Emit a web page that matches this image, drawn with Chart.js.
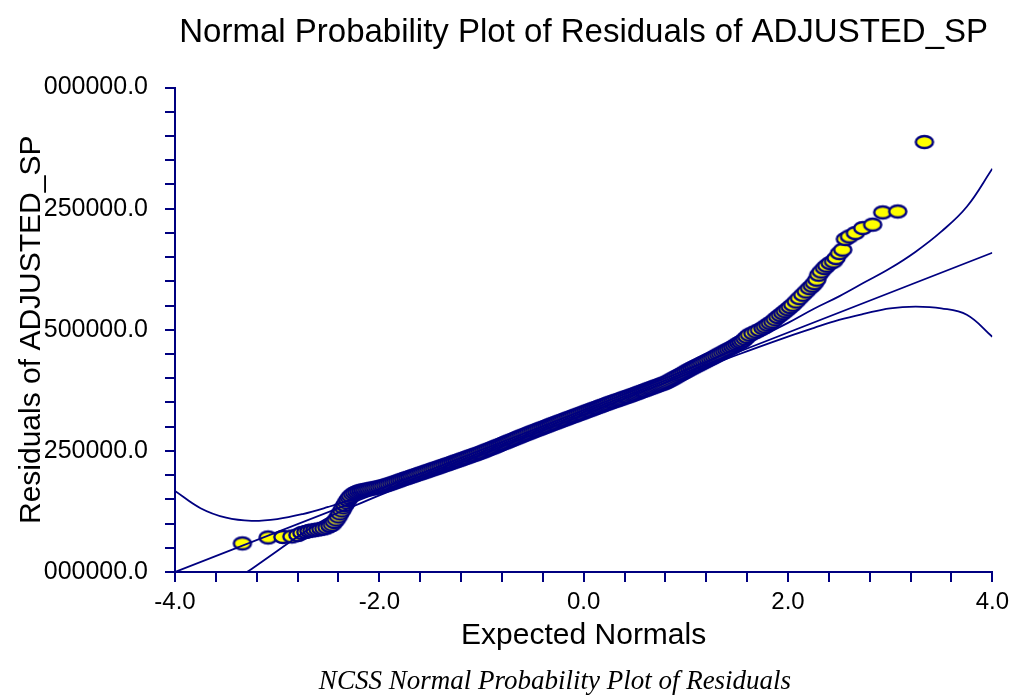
<!DOCTYPE html>
<html><head><meta charset="utf-8">
<script src="https://cdn.jsdelivr.net/npm/chart.js@4.4.0/dist/chart.umd.min.js"></script>
<style>html,body{margin:0;padding:0;background:#fff}#wrap{width:1015px;height:696px}</style>
</head><body><div id="wrap"><canvas id="c" width="1015" height="696"></canvas></div>
<script>
const titleText = 'Normal Probability Plot of Residuals of ADJUSTED_SP';
const xAxisTitle = 'Expected Normals';
const yAxisTitle = 'Residuals of ADJUSTED_SP';
const captionText = 'NCSS Normal Probability Plot of Residuals';
const xTickLabels = ['-4.0','-2.0','0.0','2.0','4.0'];
const yTickLabels = ['000000.0','250000.0','500000.0','250000.0','000000.0'];

// expected normal scores (x) of the sorted residuals
const expectedNormals = [
-3.340,-3.088,-2.944,-2.856,-2.797,-2.758,-2.719,-2.689,-2.660,-2.631,
-2.601,-2.572,-2.543,-2.513,-2.484,-2.460,-2.440,-2.421,-2.401,-2.386,
-2.367,-2.352,-2.337,-2.323,-2.308,-2.293,
-2.28,-2.26,-2.24,-2.22,-2.20,-2.18,-2.16,-2.14,-2.12,-2.10,
-2.08,-2.06,-2.04,-2.02,-2.00,-1.98,-1.96,-1.94,-1.92,-1.90,
-1.88,-1.86,-1.84,-1.82,-1.80,-1.78,-1.76,-1.74,-1.72,-1.70,
-1.68,-1.66,-1.64,-1.62,-1.60,-1.58,-1.56,-1.54,-1.52,-1.50,
-1.48,-1.46,-1.44,-1.42,-1.40,-1.38,-1.36,-1.34,-1.32,-1.30,
-1.28,-1.26,-1.24,-1.22,-1.20,-1.18,-1.16,-1.14,-1.12,-1.10,
-1.08,-1.06,-1.04,-1.02,-1.00,-0.98,-0.96,-0.94,-0.92,-0.90,
-0.88,-0.86,-0.84,-0.82,-0.80,-0.78,-0.76,-0.74,-0.72,-0.70,
-0.68,-0.66,-0.64,-0.62,-0.60,-0.58,-0.56,-0.54,-0.52,-0.50,
-0.48,-0.46,-0.44,-0.42,-0.40,-0.38,-0.36,-0.34,-0.32,-0.30,
-0.28,-0.26,-0.24,-0.22,-0.20,-0.18,-0.16,-0.14,-0.12,-0.10,
-0.08,-0.06,-0.04,-0.02,0.00,0.02,0.04,0.06,0.08,0.10,
0.12,0.14,0.16,0.18,0.20,0.22,0.24,0.26,0.28,0.30,
0.32,0.34,0.36,0.38,0.40,0.42,0.44,0.46,0.48,0.50,
0.52,0.54,0.56,0.58,0.60,0.62,0.64,0.66,0.68,0.70,
0.72,0.74,0.76,0.78,0.80,0.82,0.84,0.86,0.88,0.90,
0.92,0.94,0.96,0.98,1.00,1.02,1.04,1.06,1.08,1.10,
1.12,1.14,1.16,1.18,1.20,1.22,1.24,1.26,1.28,1.30,
1.32,1.34,1.36,1.38,1.40,1.42,1.44,1.46,1.48,1.50,
1.52,1.54,1.56,
1.58,1.60,1.623,1.656,1.689,1.72,1.754,1.778,1.802,1.826,
1.851,1.875,1.900,1.925,1.949,1.973,1.998,2.022,2.047,2.080,
2.112,2.145,2.178,2.210,2.237,2.259,2.282,2.301,2.325,2.357,
2.380,2.413,2.445,2.471,2.504,2.536,2.562,2.601,2.660,2.732,
2.829,2.927,3.074,3.335
];
// residuals (thousands)
const residuals = [
-823,-786,-783,-780,-771,-758,-752,-746,-743,-740,
-737,-733,-730,-724,-715,-706,-690,-675,-656,-637,
-619,-600,-585,-569,-554,-541,
-530,-519,-511,-505,-500,-497,-494,-492,-489,-487,
-484,-482,-479,-476,-474,-470,-467,-463,-459,-456,
-451,-447,-442,-438,-433,-429,-424,-420,-416,-412,
-407,-403,-399,-394,-390,-386,-382,-377,-373,-369,
-364,-360,-356,-352,-347,-343,-338,-334,-330,-325,
-321,-316,-312,-308,-303,-299,-294,-290,-285,-281,
-276,-272,-268,-263,-258,-253,-248,-243,-238,-233,
-228,-223,-218,-213,-207,-202,-197,-192,-187,-182,
-177,-171,-166,-161,-156,-151,-146,-141,-136,-131,
-126,-121,-116,-112,-107,-102,-97,-92,-87,-82,
-78,-73,-68,-64,-59,-54,-49,-45,-40,-35,
-31,-26,-21,-17,-12,-7,-2,2,7,12,
16,21,26,30,35,40,44,49,53,58,
62,66,71,75,80,84,88,93,97,102,
107,111,116,121,125,130,135,139,144,149,
153,158,163,167,172,178,185,192,199,206,
213,220,227,234,241,248,255,262,268,275,
281,287,294,300,306,313,319,325,332,339,
346,352,359,366,373,379,386,393,401,409,
417,424,432,
444,456,469,479,489,499,510,520,531,541,
551,565,579,591,603,615,628,641,655,675,
696,717,737,758,773,789,810,841,861,882,
897,913,923,944,975,996,1062,1078,1099,1130,
1151,1227,1233,1663
];
// reference line and confidence bands (thousands)
const fitX = [-4, 4];
const fitY = [-1000, 977];
const bandX = [-4,-3.75,-3.5,-3.25,-3,-2.75,-2.5,-2.25,-2,-1.5,-1,-0.5,0,0.5,1,1.5,2,2.25,2.5,2.75,3,3.25,3.5,3.75,4];
const upperBand = [-498,-605,-664,-683,-672,-641,-597,-547,-487,-367,-244,-121,2,126,251,386,543,629,707,794,881,984,1108,1262,1498];
const lowerBand = [-1502,-1271,-1089,-981,-870,-760,-662,-592,-525,-398,-272,-148,-25,98,222,344,458,511,561,600,633,643,633,593,457];

const NAVY = '#000080';
const FONT = 'Liberation Sans';

const marker = document.createElement('canvas');
marker.width = 24; marker.height = 18;
(function(){
  const g = marker.getContext('2d');
  g.beginPath(); g.ellipse(12, 9, 8.6, 6.0, 0, 0, Math.PI * 2);
  g.fillStyle = '#FFFF00'; g.fill();
  g.lineWidth = 2.4; g.strokeStyle = NAVY; g.stroke();
})();

const toXY = (xs, ys) => xs.map((x, i) => ({ x: x, y: ys[i] }));

const captionPlugin = {
  id: 'caption',
  afterDraw(chart) {
    const ctx = chart.ctx;
    ctx.save();
    ctx.font = 'italic 27px "Liberation Serif"';
    ctx.fillStyle = '#000';
    ctx.textAlign = 'center';
    ctx.textBaseline = 'alphabetic';
    ctx.fillText(captionText, 555, 689);
    ctx.restore();
  }
};

const lineDs = (label, xs, ys, tension) => ({
  label: label, data: toXY(xs, ys), showLine: true, tension: tension,
  borderColor: NAVY, borderWidth: 1.8, pointRadius: 0, fill: false, order: 0
});

new Chart(document.getElementById('c'), {
  type: 'scatter',
  data: {
    datasets: [
      lineDs('Reference line', fitX, fitY, 0),
      lineDs('Upper band', bandX, upperBand, 0.4),
      lineDs('Lower band', bandX, lowerBand, 0.4),
      { label: 'Residuals', data: toXY(expectedNormals, residuals), pointStyle: marker, pointRadius: 9, order: 1 }
    ]
  },
  options: {
    responsive: false, animation: false, events: [],
    layout: { padding: { top: 0, left: 0, right: 22, bottom: 0 } },
    plugins: {
      legend: { display: false },
      tooltip: { enabled: false },
      title: {
        display: true, text: titleText, fullSize: false, color: '#000',
        font: { family: FONT, size: 33, weight: 'normal' },
        padding: { top: 13, bottom: 35 }
      }
    },
    scales: {
      x: {
        type: 'linear', min: -4, max: 4,
        ticks: {
          stepSize: 0.4, autoSkip: false, maxRotation: 0, padding: 6, color: '#000',
          font: { family: FONT, size: 24 },
          callback: (v) => { const k = v / 2; return Math.abs(k - Math.round(k)) < 1e-6 ? xTickLabels[Math.round(k) + 2] : ''; }
        },
        grid: { drawOnChartArea: false, drawTicks: true, tickLength: 10, color: NAVY, lineWidth: 2 },
        border: { display: true, color: NAVY, width: 2 },
        title: { display: true, text: xAxisTitle, color: '#000', font: { family: FONT, size: 30 }, padding: { top: 0, bottom: 42 } },
        afterFit: (s) => { s.height = 124; }
      },
      y: {
        type: 'linear', min: -1000, max: 2000,
        ticks: {
          stepSize: 150, autoSkip: false, padding: 17, color: '#000',
          font: { family: FONT, size: 25 },
          callback: (v) => { const k = (v + 1000) / 750; return Math.abs(k - Math.round(k)) < 1e-6 ? yTickLabels[Math.round(k)] : ''; }
        },
        grid: { drawOnChartArea: false, drawTicks: true, tickLength: 10, color: NAVY, lineWidth: 2 },
        border: { display: true, color: NAVY, width: 2 },
        title: { display: true, text: yAxisTitle, color: '#000', font: { family: FONT, size: 30 }, padding: { top: 14, bottom: 0 } },
        afterFit: (s) => { s.width = 175; }
      }
    }
  },
  plugins: [captionPlugin]
});
</script>
</body></html>
